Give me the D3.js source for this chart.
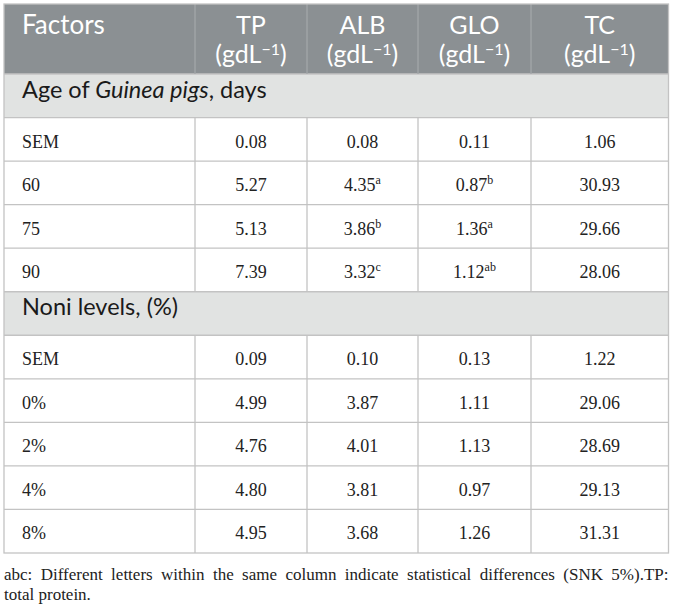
<!DOCTYPE html>
<html>
<head>
<meta charset="utf-8">
<script src="https://cdn.jsdelivr.net/npm/d3@7"></script>
<style>
  body { margin: 0; background: #fff; }
  svg { display: block; }
</style>
</head>
<body>
<svg width="673" height="605"></svg>
<script>
// column headers
var columns = ["TP", "ALB", "GLO", "TC"];
var unit = "(gdL";

// section titles
var sections = ["age", "noni"];

// row labels per section
var ageLabels = ["SEM", "60", "75", "90"];
var noniLabels = ["SEM", "0%", "2%", "4%", "8%"];

// values, one array per column, in row order
var ageTP  = [0.08, 5.27, 5.13, 7.39];
var ageALB = [0.08, 4.35, 3.86, 3.32];
var ageGLO = [0.11, 0.87, 1.36, 1.12];
var ageTC  = [1.06, 30.93, 29.66, 28.06];
var ageALBsup = ["", "a", "b", "c"];
var ageGLOsup = ["", "b", "a", "ab"];

var noniTP  = [0.09, 4.99, 4.76, 4.80, 4.95];
var noniALB = [0.10, 3.87, 4.01, 3.81, 3.68];
var noniGLO = [0.13, 1.11, 1.13, 0.97, 1.26];
var noniTC  = [1.22, 29.06, 28.69, 29.13, 31.31];

var footnote = "abc: Different letters within the same column indicate statistical differences (SNK 5%).TP:";
var footnote2 = "total protein.";

// layout
var tLeft = 4, tRight = 668.5, tTop = 4, headH = 70, tBottom = 553;
var colWidths = [191, 112, 111, 113, 137];
var fmt = d3.format(".2f");

// build the row list
var rows = [];
rows.push({type: "section", id: "s-age", key: "age"});
ageLabels.forEach(function (l, i) {
    rows.push({type: "data", id: "a" + i, label: l,
        vals: [ageTP[i], ageALB[i], ageGLO[i], ageTC[i]],
        sups: ["", ageALBsup[i], ageGLOsup[i], ""]});
});
rows.push({type: "section", id: "s-noni", key: "noni"});
noniLabels.forEach(function (l, i) {
    rows.push({type: "data", id: "n" + i, label: l,
        vals: [noniTP[i], noniALB[i], noniGLO[i], noniTC[i]],
        sups: ["", "", "", ""]});
});

var edges = [tLeft];
colWidths.forEach(function (w) { edges.push(edges[edges.length - 1] + w); });
edges[edges.length - 1] = tRight;

var x = d3.scaleOrdinal()
    .domain(["Factors"].concat(columns))
    .range(edges.slice(0, -1));
var xEnd = d3.scaleOrdinal()
    .domain(["Factors"].concat(columns))
    .range(edges.slice(1));
function xMid(c) { return (x(c) + xEnd(c)) / 2; }

var y = d3.scaleBand()
    .domain(rows.map(function (d) { return d.id; }))
    .range([tTop + headH, tBottom]);

var svg = d3.select("svg");
var border = "#c3c3c3";

// header
svg.append("rect")
    .attr("x", tLeft).attr("y", tTop)
    .attr("width", tRight - tLeft).attr("height", headH)
    .attr("fill", "#8b9093");

var head = svg.append("g")
    .attr("font-family", "Lato, 'Open Sans', sans-serif")
    .attr("font-size", 25)
    .attr("fill", "#fff");

head.append("text")
    .attr("x", 22).attr("y", tTop + 30)
    .attr("font-size", 26)
    .text("Factors");

columns.forEach(function (c) {
    head.append("text")
        .attr("x", xMid(c)).attr("y", tTop + 30)
        .attr("text-anchor", "middle")
        .text(c);
    var t = head.append("text")
        .attr("x", xMid(c)).attr("y", tTop + 59)
        .attr("text-anchor", "middle");
    t.append("tspan").text(unit);
    t.append("tspan").attr("font-size", 16).attr("dy", -8).text("\u22121");
    t.append("tspan").attr("dy", 8).text(")");
});

// section rows
var secRows = rows.filter(function (d) { return d.type === "section"; });
svg.selectAll("rect.sec")
    .data(secRows)
    .enter()
    .append("rect")
    .attr("class", "sec")
    .attr("x", tLeft).attr("y", function (d) { return y(d.id); })
    .attr("width", tRight - tLeft).attr("height", y.bandwidth())
    .attr("fill", "#e1e3e2");

var secText = svg.selectAll("text.sec")
    .data(secRows)
    .enter()
    .append("text")
    .attr("class", "sec")
    .attr("x", 22)
    .attr("y", function (d) { return y(d.id) + 23.5; })
    .attr("font-family", "Lato, 'Open Sans', sans-serif")
    .attr("font-size", 23.5)
    .attr("fill", "#1a1a1a");

secText.each(function (d) {
    var t = d3.select(this);
    if (d.key === "age") {
        t.append("tspan").text("Age of ");
        t.append("tspan").attr("font-style", "italic").text("Guinea pigs");
        t.append("tspan").text(", days");
    } else {
        t.text("Noni levels, (%)");
    }
});

// data rows
var dataRows = rows.filter(function (d) { return d.type === "data"; });
var dg = svg.selectAll("g.row")
    .data(dataRows)
    .enter()
    .append("g")
    .attr("class", "row")
    .attr("transform", function (d) { return "translate(0," + y(d.id) + ")"; })
    .attr("font-family", "'Liberation Serif', 'Times New Roman', serif")
    .attr("font-size", 18)
    .attr("fill", "#222");

dg.append("text")
    .attr("x", 22).attr("y", 30)
    .text(function (d) { return d.label; });

columns.forEach(function (c, ci) {
    var t = dg.append("text")
        .attr("x", xMid(c)).attr("y", 30)
        .attr("text-anchor", "middle");
    t.append("tspan").text(function (d) { return fmt(d.vals[ci]); });
    t.filter(function (d) { return d.sups[ci]; })
        .append("tspan")
        .attr("font-size", 12)
        .attr("dy", -7)
        .text(function (d) { return d.sups[ci]; });
});

// grid lines
var lines = svg.append("g")
    .attr("stroke", border)
    .attr("stroke-width", 1.3)
    .attr("fill", "none");

var hs = [tTop + headH].concat(rows.map(function (d) { return y(d.id) + y.bandwidth(); }));
lines.selectAll("line.h")
    .data(hs.slice(0, -1))
    .enter()
    .append("line")
    .attr("x1", tLeft).attr("x2", tRight)
    .attr("y1", function (d) { return d; }).attr("y2", function (d) { return d; });

// vertical dividers (header has its own, skipping section rows)
columns.forEach(function (c) {
    lines.append("line")
        .attr("x1", x(c)).attr("x2", x(c))
        .attr("y1", tTop).attr("y2", tTop + headH)
        .attr("stroke", "#a3a7a9");
    dataRows.forEach(function (d) {
        lines.append("line")
            .attr("x1", x(c)).attr("x2", x(c))
            .attr("y1", y(d.id)).attr("y2", y(d.id) + y.bandwidth());
    });
});

lines.append("rect")
    .attr("x", tLeft).attr("y", tTop)
    .attr("width", tRight - tLeft).attr("height", tBottom - tTop);

// footnote, justified to table width
var fn = svg.append("g")
    .attr("font-family", "'Liberation Serif', 'Times New Roman', serif")
    .attr("font-size", 17)
    .attr("fill", "#222");

var f1 = fn.append("text").attr("x", tLeft).attr("y", 580).text(footnote);
var natural = f1.node().getComputedTextLength();
var gaps = footnote.split(" ").length - 1;
f1.attr("word-spacing", ((tRight - tLeft) - natural) / gaps);

fn.append("text").attr("x", tLeft).attr("y", 600).text(footnote2);
</script>
</body>
</html>
